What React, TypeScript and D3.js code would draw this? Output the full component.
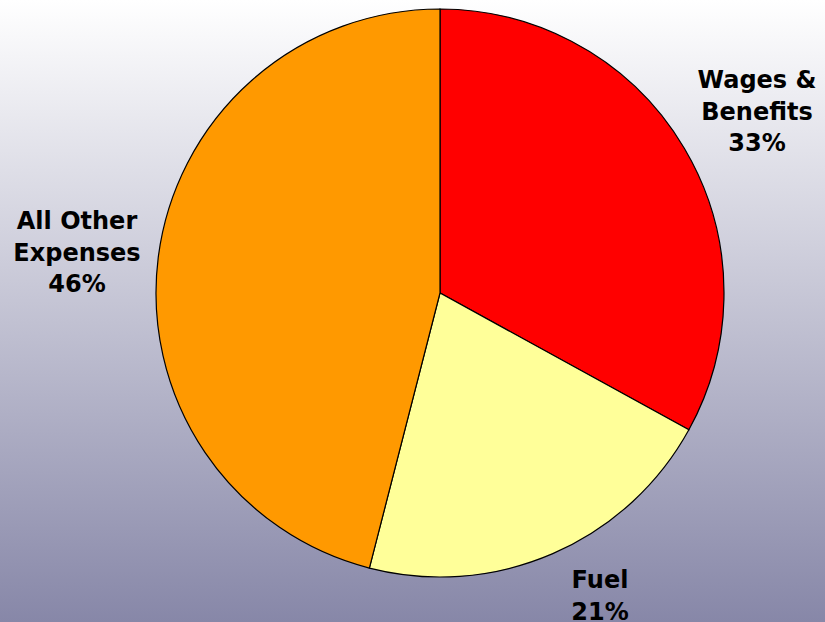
import React, { useRef, useEffect } from 'react';
import * as d3 from 'd3';

const categories = ['Wages & Benefits', 'Fuel', 'All Other Expenses'];
const shares = [33, 21, 46];
const sliceColors = ['#FF0000', '#FFFF99', '#FF9900'];
// label lines per slice
const labelLines = [['Wages &', 'Benefits', '33%'], ['Fuel', '21%'], ['All Other', 'Expenses', '46%']];

const W = 825;
const H = 622;

const App: React.FC = () => {
  const svgRef = useRef<SVGSVGElement>(null);

  useEffect(() => {
    if (!svgRef.current) return;
    const svg = d3.select(svgRef.current);
    svg.selectAll('*').remove();

    const defs = svg.append('defs');
    const grad = defs.append('linearGradient')
      .attr('id', 'bg')
      .attr('x1', 0).attr('y1', 0).attr('x2', 0).attr('y2', 1);
    grad.append('stop').attr('offset', '0%').attr('stop-color', '#ffffff');
    grad.append('stop').attr('offset', '100%').attr('stop-color', '#8787a8');

    svg.append('rect').attr('width', W).attr('height', H).attr('fill', 'url(#bg)');

    const cx = 440;
    const cy = 293;
    const r = 284;

    const pie = d3.pie<number>().sort(null).value((d) => d);
    const arcs = pie(shares);
    const arc = d3.arc<d3.PieArcDatum<number>>().innerRadius(0).outerRadius(r);

    const g = svg.append('g').attr('transform', `translate(${cx},${cy})`);
    g.selectAll('path')
      .data(arcs)
      .enter()
      .append('path')
      .attr('d', arc)
      .attr('fill', (_, i) => sliceColors[i])
      .attr('stroke', '#000')
      .attr('stroke-width', 1.2);

    // label anchor positions (first baseline), placed outside the pie
    const labelPos: [number, number][] = [[757, 88], [600, 588], [77, 229]];
    const lineH = 31.5;

    categories.forEach((c, i) => {
      const t = svg.append('text')
        .attr('text-anchor', 'middle')
        .attr('font-family', '"DejaVu Sans", Verdana, sans-serif')
        .attr('font-weight', 'bold')
        .attr('font-size', 24)
        .attr('fill', '#000')
        .attr('data-cat', c);
      labelLines[i].forEach((line, j) => {
        t.append('tspan')
          .attr('x', labelPos[i][0])
          .attr('y', labelPos[i][1] + j * lineH)
          .text(line);
      });
    });
  }, []);

  return (
    <svg
      ref={svgRef}
      width={W}
      height={H}
      style={{ position: 'absolute', top: 0, left: 0, display: 'block' }}
    />
  );
};

export default App;
